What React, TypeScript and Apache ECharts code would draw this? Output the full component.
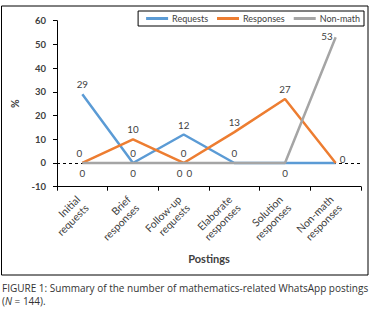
import React, { useEffect, useRef } from "react";
import * as echarts from "echarts";

const categories = [
  "Initial\nrequests",
  "Brief\nresponses",
  "Follow-up\nrequests",
  "Elaborate\nresponses",
  "Solution\nresponses",
  "Non-math\nresponses",
];
const requests = [29, 0, 12, 0, 0, 0];
const responses = [0, 10, 0, 13, 27, 0];
const nonMath = [0, 0, 0, 0, 0, 53];

// label placement per point ("" = hidden)
const requestsLabelPos = ["top", "top", "top", "top", "", ""];
const responsesLabelPos = ["top", "top", "top", "top", "top", "right"];
const nonMathLabelPos = ["bottom", "bottom", "bottom", "bottom", "bottom", "left"];
// small label nudges [dx, dy] where the reference shows them shifted
const responsesLabelShift = [[-3, 0], [0, 0], [0, 0], [0, 0], [0, 0], [-1, -4]];
const nonMathLabelShift = [[0, 0], [0, 0], [-4, 0], [-45, 0], [0, 0], [0, -1]];

const FONT = "Lato";

function build(values: number[], pos: string[]) {
  return values.map((v, i) => ({
    value: v,
    label: pos[i]
      ? {
          show: true,
          position: pos[i] as any,
          distance: pos[i] === "left" ? 3 : 5,
        }
      : { show: false },
  }));
}

function shiftLayout(shift?: number[][]) {
  return (p: any) => {
    const s = shift ? shift[p.dataIndex] : [0, 0];
    return { dx: s[0], dy: s[1], hideOverlap: false };
  };
}

export default function App() {
  const ref = useRef<HTMLDivElement>(null);
  useEffect(() => {
    const chart = echarts.init(ref.current!, null, { renderer: "svg" });
    const labelStyle = { color: "#404040", fontSize: 9.8, fontFamily: FONT };
    const lineSeries = (name: string, data: any[], color: string, shift?: number[][]) => ({
      name,
      type: "line",
      data,
      symbol: "circle",
      symbolSize: 0.01,
      showSymbol: true,
      lineStyle: { color, width: 2.5 },
      itemStyle: { color },
      label: { ...labelStyle },
      labelLayout: shiftLayout(shift),
      emphasis: { disabled: true },
    });
    chart.setOption({
      animation: false,
      textStyle: { fontFamily: FONT },
      grid: { left: 57, right: 16, top: 20.7, bottom: 124.3 },
      legend: {
        right: 13,
        top: 11,
        padding: [3, 4, 3, 8],
        borderColor: "#000",
        borderWidth: 1,
        itemGap: 9,
        itemWidth: 22,
        itemHeight: 3,
        icon: "rect",
        textStyle: { fontSize: 9, color: "#404040", fontFamily: FONT, padding: [0, 0, 0, -1] },
        data: ["Requests", "Responses", "Non-math"],
      },
      xAxis: {
        type: "category",
        data: categories,
        boundaryGap: true,
        name: "Postings",
        nameLocation: "middle",
        nameGap: 66,
        nameTextStyle: { fontSize: 11, fontWeight: "bold", color: "#404040", fontFamily: FONT },
        axisLine: { onZero: false, lineStyle: { color: "#000", width: 1 } },
        axisTick: { show: true, length: 4, lineStyle: { color: "#000" } },
        axisLabel: {
          rotate: 45,
          fontSize: 10.5,
          color: "#404040",
          fontFamily: FONT,
          interval: 0,
          lineHeight: 12,
          align: "right",
          margin: 15,
        },
      },
      yAxis: {
        type: "value",
        min: -10,
        max: 60,
        interval: 10,
        name: "%",
        nameLocation: "middle",
        nameGap: 37,
        nameRotate: 90,
        nameTextStyle: { fontSize: 10.5, fontWeight: "bold", color: "#404040", fontFamily: FONT },
        axisLine: { show: true, lineStyle: { color: "#000", width: 1 } },
        axisTick: { show: true, length: 4, lineStyle: { color: "#000" } },
        splitLine: { show: false },
        axisLabel: { fontSize: 9.5, fontWeight: "bold", color: "#404040", fontFamily: FONT, margin: 11 },
      },
      graphic: [
        {
          type: "rect",
          shape: { x: 1.5, y: 6, width: 366.5, height: 269 },
          style: { fill: "none", stroke: "#000", lineWidth: 1 },
          silent: true,
        },
        {
          type: "text",
          left: 2,
          top: 281,
          style: {
            text: "FIGURE 1: Summary of the number of mathematics-related WhatsApp postings\n({i|N} = 144).",
            fontSize: 10,
            lineHeight: 13,
            fontFamily: "Open Sans",
            fill: "#333",
            rich: { i: { fontStyle: "italic", fontSize: 10, fontFamily: "Open Sans", fill: "#333" } },
          },
        },
      ],
      series: [
        {
          ...lineSeries("Requests", build(requests, requestsLabelPos), "#5B9BD5"),
          markLine: {
            silent: true,
            symbol: "none",
            label: { show: false },
            lineStyle: { color: "#000", type: [3, 3], width: 1 },
            data: [{ yAxis: 0 }],
            z: 1,
          },
        },
        lineSeries("Responses", build(responses, responsesLabelPos), "#ED7D31", responsesLabelShift),
        lineSeries("Non-math", build(nonMath, nonMathLabelPos), "#A5A5A5", nonMathLabelShift),
      ],
    });
    return () => chart.dispose();
  }, []);
  return (
    <div
      ref={ref}
      style={{ position: "absolute", left: 0, top: 0, width: 377, height: 311 }}
    />
  );
}
